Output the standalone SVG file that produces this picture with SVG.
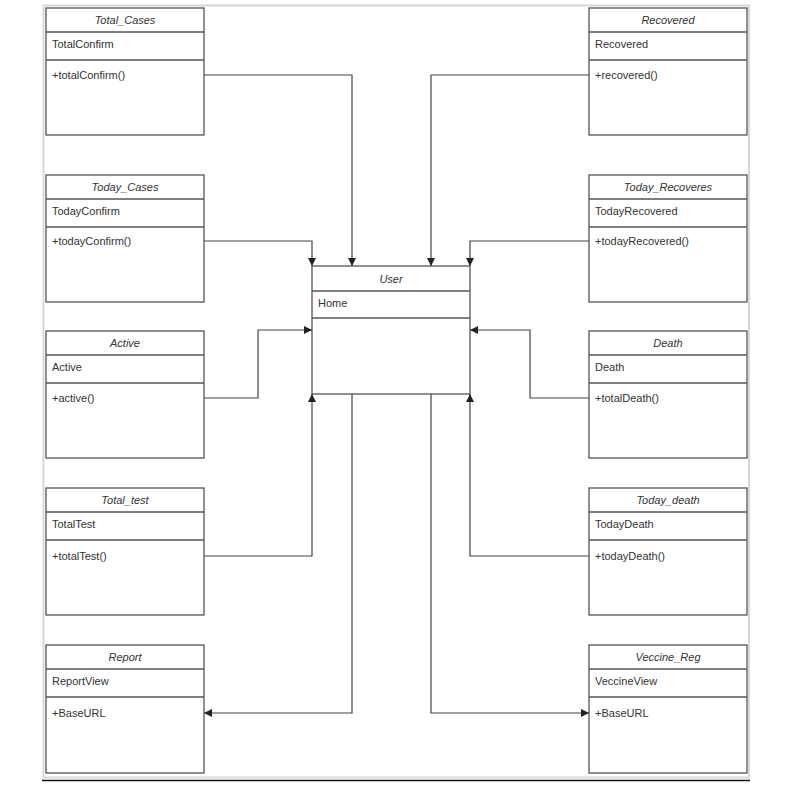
<svg xmlns="http://www.w3.org/2000/svg" width="787" height="788" viewBox="0 0 787 788">
<style>
.box{fill:#fff;stroke:#555;stroke-width:1.3}
.ln{stroke:#555;stroke-width:1.3;fill:none}
.t{font-family:"Liberation Sans",Arial,sans-serif;font-size:11px;fill:#333}
.h{font-style:italic;text-anchor:middle}
.c{fill:none;stroke:#444;stroke-width:1.2;marker-end:url(#ah)}
</style>
<defs>
<marker id="ah" markerWidth="10" markerHeight="10" refX="8" refY="4" orient="auto" markerUnits="userSpaceOnUse">
<path d="M0,0 L8,4 L0,8 Z" fill="#222"/>
</marker>
</defs>
<rect width="787" height="788" fill="#fff"/>
<rect x="43.5" y="5.5" width="705.5" height="772" fill="none" stroke="#d4d8dc" stroke-width="2"/>
<line x1="42" y1="780.5" x2="750" y2="780.5" stroke="#111" stroke-width="1.5"/>

<g id="total_cases">
<rect class="box" x="46" y="8" width="158" height="127"/>
<line class="ln" x1="46" y1="32" x2="204" y2="32"/><line class="ln" x1="46" y1="60" x2="204" y2="60"/>
<text class="t h" x="125" y="24">Total_Cases</text>
<text class="t" x="52" y="48">TotalConfirm</text>
<text class="t" x="52" y="79">+totalConfirm()</text>
</g>
<g id="today_cases">
<rect class="box" x="46" y="175" width="158" height="127"/>
<line class="ln" x1="46" y1="199" x2="204" y2="199"/><line class="ln" x1="46" y1="227" x2="204" y2="227"/>
<text class="t h" x="125" y="191">Today_Cases</text>
<text class="t" x="52" y="215">TodayConfirm</text>
<text class="t" x="52" y="245">+todayConfirm()</text>
</g>
<g id="active">
<rect class="box" x="46" y="331" width="158" height="127"/>
<line class="ln" x1="46" y1="355" x2="204" y2="355"/><line class="ln" x1="46" y1="383" x2="204" y2="383"/>
<text class="t h" x="125" y="347">Active</text>
<text class="t" x="52" y="371">Active</text>
<text class="t" x="52" y="402">+active()</text>
</g>
<g id="total_test">
<rect class="box" x="46" y="488" width="158" height="127"/>
<line class="ln" x1="46" y1="512" x2="204" y2="512"/><line class="ln" x1="46" y1="540" x2="204" y2="540"/>
<text class="t h" x="125" y="504">Total_test</text>
<text class="t" x="52" y="528">TotalTest</text>
<text class="t" x="52" y="560">+totalTest()</text>
</g>
<g id="report">
<rect class="box" x="46" y="645" width="158" height="128"/>
<line class="ln" x1="46" y1="669" x2="204" y2="669"/><line class="ln" x1="46" y1="697" x2="204" y2="697"/>
<text class="t h" x="125" y="661">Report</text>
<text class="t" x="52" y="685">ReportView</text>
<text class="t" x="52" y="717">+BaseURL</text>
</g>

<g id="recovered">
<rect class="box" x="589" y="8" width="158" height="127"/>
<line class="ln" x1="589" y1="32" x2="747" y2="32"/><line class="ln" x1="589" y1="60" x2="747" y2="60"/>
<text class="t h" x="668" y="24">Recovered</text>
<text class="t" x="595" y="48">Recovered</text>
<text class="t" x="595" y="79">+recovered()</text>
</g>
<g id="today_recoveres">
<rect class="box" x="589" y="175" width="158" height="127"/>
<line class="ln" x1="589" y1="199" x2="747" y2="199"/><line class="ln" x1="589" y1="227" x2="747" y2="227"/>
<text class="t h" x="668" y="191">Today_Recoveres</text>
<text class="t" x="595" y="215">TodayRecovered</text>
<text class="t" x="595" y="245">+todayRecovered()</text>
</g>
<g id="death">
<rect class="box" x="589" y="331" width="158" height="127"/>
<line class="ln" x1="589" y1="355" x2="747" y2="355"/><line class="ln" x1="589" y1="383" x2="747" y2="383"/>
<text class="t h" x="668" y="347">Death</text>
<text class="t" x="595" y="371">Death</text>
<text class="t" x="595" y="402">+totalDeath()</text>
</g>
<g id="today_death">
<rect class="box" x="589" y="488" width="158" height="127"/>
<line class="ln" x1="589" y1="512" x2="747" y2="512"/><line class="ln" x1="589" y1="540" x2="747" y2="540"/>
<text class="t h" x="668" y="504">Today_death</text>
<text class="t" x="595" y="528">TodayDeath</text>
<text class="t" x="595" y="560">+todayDeath()</text>
</g>
<g id="veccine_reg">
<rect class="box" x="589" y="645" width="158" height="128"/>
<line class="ln" x1="589" y1="669" x2="747" y2="669"/><line class="ln" x1="589" y1="697" x2="747" y2="697"/>
<text class="t h" x="668" y="661">Veccine_Reg</text>
<text class="t" x="595" y="685">VeccineView</text>
<text class="t" x="595" y="717">+BaseURL</text>
</g>

<g id="user">
<rect class="box" x="312" y="266" width="158" height="128"/>
<line class="ln" x1="312" y1="291" x2="470" y2="291"/><line class="ln" x1="312" y1="318" x2="470" y2="318"/>
<text class="t h" x="391" y="283">User</text>
<text class="t" x="318" y="307">Home</text>
</g>

<g id="connectors">
<path class="c" d="M204,75 H352 V266"/>
<path class="c" d="M589,75 H431 V266"/>
<path class="c" d="M204,241 H312 V266"/>
<path class="c" d="M589,241 H470 V266"/>
<path class="c" d="M204,398 H258 V330 H312"/>
<path class="c" d="M589,398 H530 V330 H470"/>
<path class="c" d="M204,556 H312 V394"/>
<path class="c" d="M589,556 H470 V394"/>
<path class="c" d="M352,394 V713 H204"/>
<path class="c" d="M431,394 V713 H589"/>
</g>
</svg>
